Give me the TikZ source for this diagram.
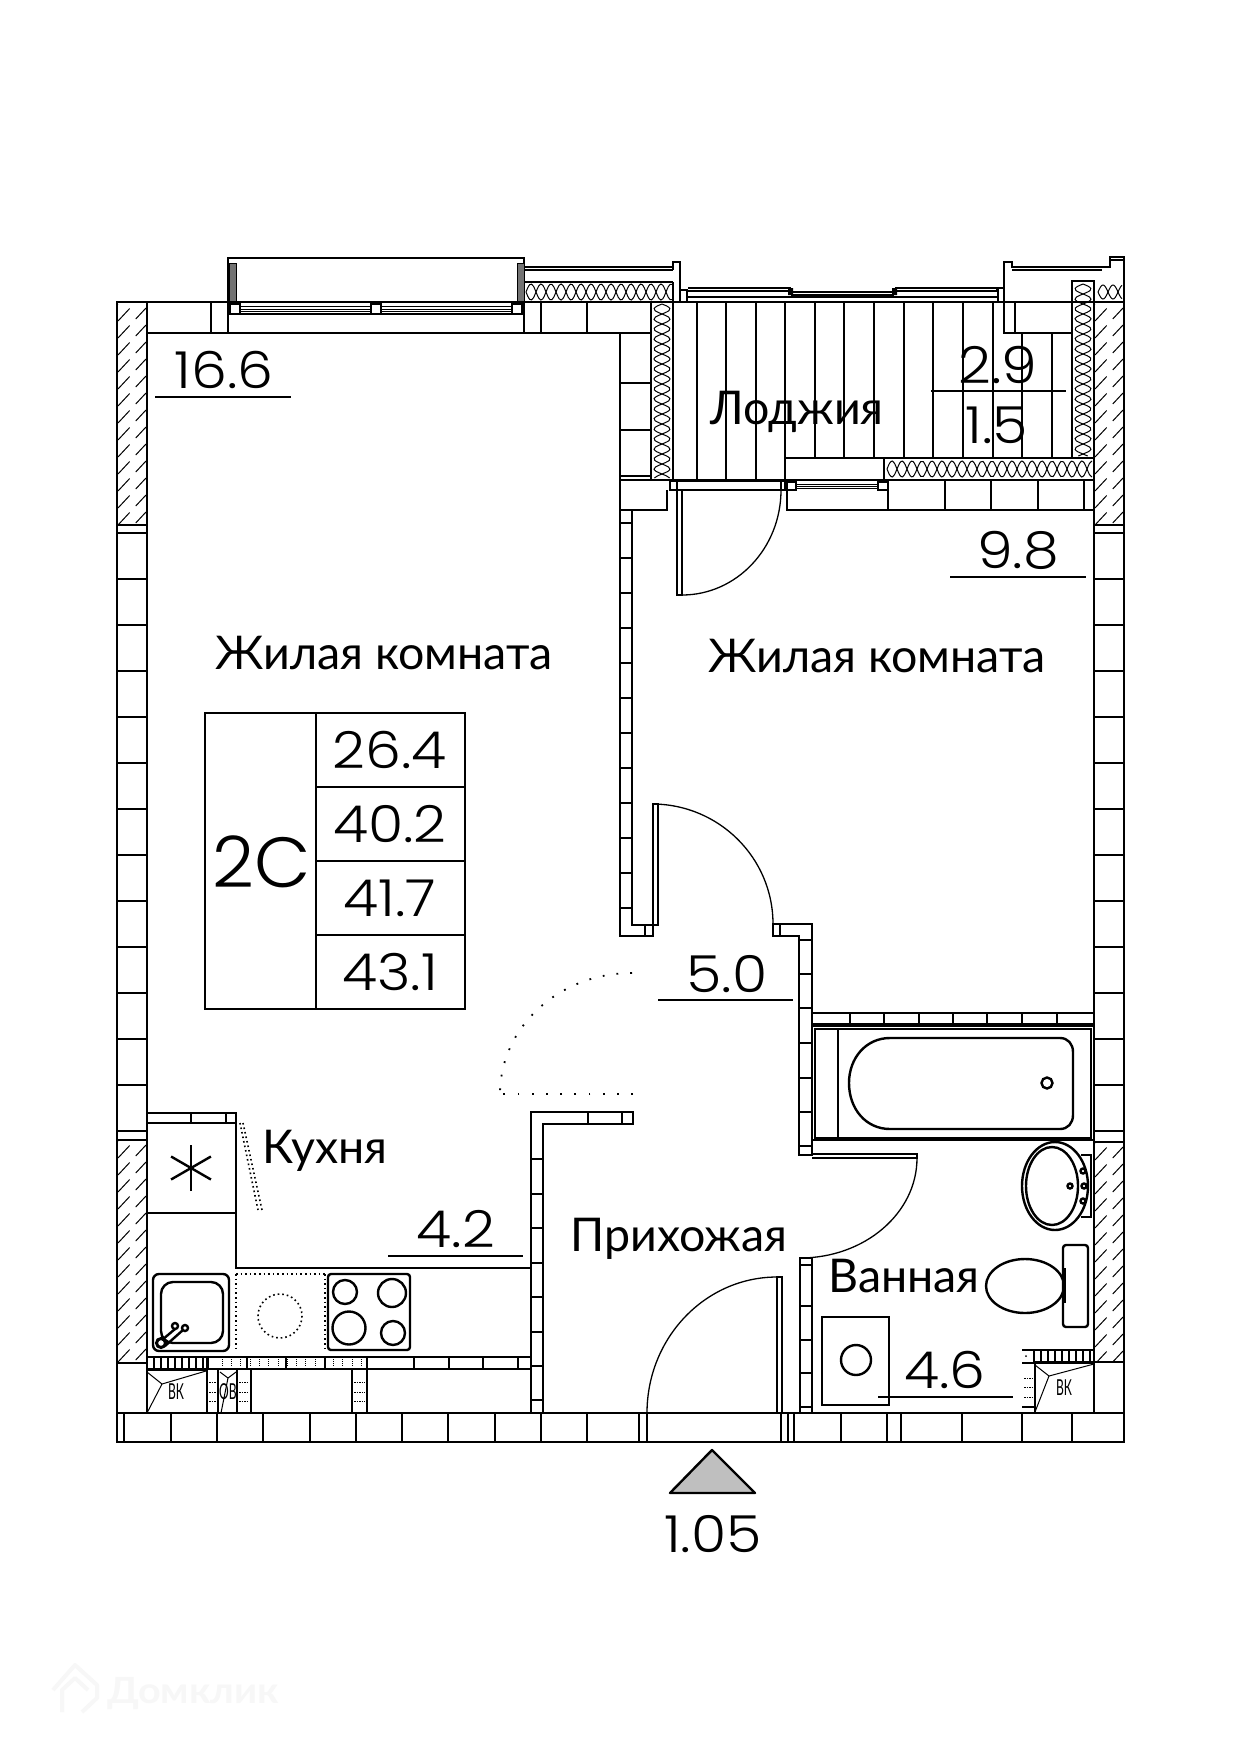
\documentclass[tikz,border=0pt]{standalone}
\usepackage{fontspec}
\setmainfont{Lato}
\newfontfamily\numfont{Poppins Light}

\tikzset{
  wall/.style={line width=2.4pt},
  thin line/.style={line width=1.3pt},
  dots/.style={line width=1.6pt,dash pattern=on 1.6pt off 3pt},
  num/.style={anchor=base,inner sep=0pt,xscale=1.12,font=\numfont\fontsize{51}{51}\selectfont},
  room/.style={anchor=base,inner sep=0pt,font=\fontsize{46.5}{46.5}\selectfont},
  vent/.style={anchor=center,inner sep=0pt,xscale=.55,font=\fontsize{22}{22}\selectfont},
}

% hatched concrete: x0,y0,x1,y1
\newcommand{\wallhatch}[4]{
  \begin{scope}
    \clip (#1,#2) rectangle (#3,#4);
    \foreach \t in {0,17,...,272}
      \draw[line width=1pt,dash pattern=on 17pt off 9pt] (#1,#2+\t) -- (#3,#2+\t-30);
  \end{scope}
}
% insulation, horizontal: x0,x1,ymid,amplitude
\newcommand{\insh}[4]{
  \draw[line width=1pt,domain=#1:#2,samples=80,smooth,variable=\t] plot ({\t},{#3+#4*sin((\t-#1)*18)});
  \draw[line width=1pt,domain=#1:#2,samples=80,smooth,variable=\t] plot ({\t},{#3-#4*sin((\t-#1)*18)});
}
% insulation, vertical: y0,y1,xmid,amplitude
\newcommand{\insv}[4]{
  \draw[line width=1pt,domain=#1:#2,samples=80,smooth,variable=\t] plot ({#3+#4*sin((\t-#1)*18)},{\t});
  \draw[line width=1pt,domain=#1:#2,samples=80,smooth,variable=\t] plot ({#3-#4*sin((\t-#1)*18)},{\t});
}

\begin{document}
\begin{tikzpicture}[x=1pt,y=-1pt]
\useasboundingbox (0,0) rectangle (1241,1749);
\fill[white] (0,0) rectangle (1241,1749);

% outer walls
\draw[wall] (1124,302) -- (1124,1442) -- (117,1442) -- (117,302) -- (228,302);
\draw[wall] (147,302) -- (147,1413);
\draw[wall] (1094,302) -- (1094,1413);
\draw[wall] (117,1413) -- (1124,1413);
\draw[wall] (117,525) -- (147,525) (117,1140) -- (147,1140) (117,1363) -- (147,1363);
\draw[wall] (1094,525) -- (1124,525) (1094,1142) -- (1124,1142) (1094,1362) -- (1124,1362);
\wallhatch{118}{304}{146}{524}
\wallhatch{118}{1141}{146}{1362}
\wallhatch{1095}{304}{1123}{524}
\wallhatch{1095}{1143}{1123}{1361}
\foreach \y in {533,579,...,1140} {
  \draw[thin line] (117,\y) -- (147,\y);
  \draw[thin line] (1094,\y) -- (1124,\y);
}
\foreach \x in {124,171,217,263,310,356,402,448,495,541,587,781,788,794,841,887,962,1022,1072}
  \draw[thin line] (\x,1413) -- (\x,1442);
\draw[wall] (639,1413) -- (639,1442) (647,1413) -- (647,1442) (901,1413) -- (901,1442);

% big window
\draw[wall] (147,333) -- (228,333) -- (228,258) -- (524,258) -- (524,333) -- (651,333);
\draw[wall] (228,302) -- (524,302) -- (680,302);
\draw[thin line] (228,333) -- (524,333);
\draw[wall] (228,314) -- (524,314);
\foreach \y in {306,309,311}
  \draw[line width=1pt] (240,\y) -- (512,\y);
\foreach \x in {235,376,517}
  \draw[wall,fill=white] (\x-5,304) rectangle (\x+5,314);
\foreach \x in {229,517} {
  \fill[black!55] (\x,263) rectangle (\x+7,301);
  \draw[line width=1pt] (\x,263) rectangle (\x+7,301);
}
\foreach \x in {211,541,587}
  \draw[thin line] (\x,302) -- (\x,333);

% parapet and insulation of the loggia
\draw[thin line] (524,267) -- (673,267) (524,270) -- (673,270);
\draw[wall] (524,282) -- (673,282);
\insh{526}{672}{292}{8}
\draw[wall] (673,282) -- (673,480);
\draw[wall] (673,270) -- (673,262) -- (680,262) -- (680,302);
\draw[wall] (651,302) -- (651,480);
\insv{304}{478}{662}{8}
\draw[wall] (620,333) -- (620,936) -- (653,936) -- (653,804) -- (658,804) -- (658,925) -- (632,925) -- (632,510);
\draw[wall] (645,925) -- (645,936);
\draw[thin line] (620,383) -- (651,383) (620,430) -- (651,430) (620,476) -- (651,476);
\draw[wall] (620,480) -- (673,480) (620,510) -- (667,510) -- (667,490);
\foreach \y in {523,558,...,925}
  \draw[thin line] (620,\y) -- (632,\y);

% loggia
\foreach \x in {697,726,756,785}
  \draw[thin line] (\x,302) -- (\x,480);
\foreach \x in {815,844,874,904,933,963,993}
  \draw[thin line] (\x,302) -- (\x,458);
\foreach \x in {1022,1052}
  \draw[thin line] (\x,333) -- (\x,458);
\draw[wall] (680,302) -- (1124,302);
\draw[wall] (687,297) -- (998,297);
\draw[thin line] (688,288) -- (790,288) -- (790,291) -- (688,291);
\draw[thin line] (895,288) -- (997,288) -- (997,291) -- (895,291);
\draw[wall] (791,292) -- (894,292);
\draw[thin line] (791,295) -- (894,295);
\fill (788,288) rectangle (793,295) (892,288) rectangle (897,295);
\draw[wall] (680,290) rectangle (687,302) (998,288) rectangle (1004,302);
\draw[wall] (1004,302) -- (1004,333) -- (1072,333);
\draw[thin line] (1015,302) -- (1015,333);
\draw[wall] (1004,288) -- (1004,262) -- (1012,262) -- (1012,267) -- (1110,267) -- (1110,257) -- (1124,257) -- (1124,302);
\draw[thin line] (1012,270) -- (1102,270);
\draw[thin line] (1110,260) -- (1124,260);
\draw[wall] (1072,281) rectangle (1094,458);
\insv{284}{456}{1083}{8}
\insh{1098}{1122}{292}{7}
\draw[thin line] (785,458) rectangle (884,480);
\draw[wall] (785,458) -- (1094,458);
\draw[wall] (884,480) -- (1094,480);
\insh{887}{1092}{469}{8}

% wall under the loggia
\draw[wall] (673,480) -- (884,480);
\draw[wall] (670,481) rectangle (785,490);
\draw[wall] (677,490) rectangle (682,595);
\draw[wall] (677,481) -- (677,490) (781,481) -- (781,490);
\draw[thin line] (682,595) arc[start angle=90,end angle=0,x radius=99,y radius=105];
\draw[wall,fill=white] (787,482) rectangle (796,490) (878,482) rectangle (888,490);
\foreach \y in {484,486,488}
  \draw[line width=1pt] (796,\y) -- (878,\y);
\draw[thin line] (787,490) -- (787,510) -- (888,510);
\draw[wall] (888,481) -- (888,510) -- (1094,510);
\foreach \x in {945,991,1038,1084}
  \draw[thin line] (\x,481) -- (\x,510);

% door of the second room
\draw[thin line] (652,804) arc[start angle=-90,end angle=0,x radius=121,y radius=120];
\draw[wall] (773,924) -- (812,924) -- (812,1155) -- (799,1155) -- (799,936) -- (773,936) -- cycle;
\draw[wall] (780,924) -- (780,936);
\foreach \y in {940,974,1008,1043,1078,1112,1146}
  \draw[thin line] (799,\y) -- (812,\y);

% table
\draw[wall] (205,713) rectangle (465,1009);
\draw[wall] (316,713) -- (316,1009);
\foreach \y in {787,861,935}
  \draw[wall] (316,\y) -- (465,\y);

% dotted swing
\draw[line width=1.8pt,dash pattern=on 1.8pt off 12pt] (632,973) arc[start angle=-90,end angle=-180,x radius=132,y radius=121];
\draw[line width=1.8pt,dash pattern=on 1.8pt off 12.4pt] (633,1094) -- (499,1094);

% hall partition
\draw[wall] (531,1268) -- (531,1112) -- (633,1112) -- (633,1124) -- (543,1124) -- (543,1413);
\draw[wall] (531,1268) -- (531,1413);
\foreach \x in {588,622}
  \draw[thin line] (\x,1112) -- (\x,1124);
\foreach \y in {1159,1194,1228,1263,1297,1332,1366,1400}
  \draw[thin line] (531,\y) -- (543,\y);

% kitchen
\draw[wall] (147,1113) -- (236,1113) -- (236,1268) -- (531,1268);
\draw[wall] (147,1123) -- (236,1123) (147,1213) -- (236,1213);
\foreach \x in {191,226}
  \draw[thin line] (\x,1113) -- (\x,1123);
\foreach \a in {90,30,-30}
  \draw[wall] ({191+23*cos(\a)},{1168+23*sin(\a)}) -- ({191-23*cos(\a)},{1168-23*sin(\a)});
\draw[dots] (240,1123) -- (258,1210);
\draw[dots] (243,1123) -- (262,1210);
\draw[wall,rounded corners=6pt] (153,1274) rectangle (229,1351);
\draw[wall,rounded corners=12pt] (161,1282) rectangle (223,1343);
\draw[line width=3pt] (161,1343) circle[radius=4.5];
\draw[wall,fill=white] (175,1326) circle[radius=3];
\draw[wall,fill=white] (185,1328) circle[radius=3];
\draw[wall] (162,1340) -- (175,1329) (165,1346) -- (183,1330);
\draw[dots] (236,1274) -- (236,1350) (325,1274) -- (325,1350) (236,1274) -- (325,1274);
\draw[dots] (280,1316) circle[radius=22];
\draw[wall,rounded corners=3pt] (328,1274) rectangle (410,1350);
\foreach \x/\y/\r in {345/1292/12,392/1293/14,349/1328/16.5,393/1333/12}
  \draw[wall] (\x,\y) circle[radius=\r];
\draw[wall] (147,1357) -- (531,1357);
\draw[wall] (147,1369) -- (531,1369);
\foreach \x in {414,449,483,518}
  \draw[thin line] (\x,1357) -- (\x,1369);
\draw[wall] (367,1357) -- (367,1369);
\foreach \x in {247,286,325}
  \draw[thin line] (\x,1357) -- (\x,1369);
\foreach \x in {154,161,...,203}
  \draw[wall] (\x,1358) -- (\x,1368);
\draw[line width=3pt] (207,1357) -- (207,1369);
\draw[line width=3pt] (147,1369) -- (207,1369);
\foreach \x in {222,231,240,250,259,268,278,287,296,305,315,324,333,342,352,361}
  \draw[line width=1pt,dash pattern=on 1pt off 1pt] (\x,1359) -- (\x,1367);

% shafts by the kitchen
\draw[wall] (207,1369) -- (207,1413) (218,1369) -- (218,1413) (237,1369) -- (237,1413) (251,1369) -- (251,1413);
\draw[wall] (352,1369) -- (352,1413) (367,1369) -- (367,1413);
\foreach \x/\w in {209/7,239/10,354/11}
  \foreach \y in {1382,1392,1401}
    \draw[line width=1pt,dash pattern=on 1.5pt off 1pt] (\x,\y) -- (\x+\w,\y);
\draw[line width=1pt] (147,1372) -- (162,1384) -- (206,1371) (162,1384) -- (147,1413);
\draw[line width=1pt] (220,1372) -- (228,1378) -- (236,1372) (228,1378) -- (221,1413);
\node[vent] (ventkitchen) at (176,1392) {ВК};
\node[vent] (ventheating) at (228,1392) {ОВ};

% bathroom wall and bath
\draw[wall] (812,1013) -- (1094,1013) (812,1024) -- (1094,1024);
\foreach \x in {850,884,919,953,987,1022,1057}
  \draw[thin line] (\x,1013) -- (\x,1024);
\draw[wall] (812,1026) -- (1094,1026);
\draw[wall] (815,1029) rectangle (1091,1138);
\draw[wall] (812,1026) -- (812,1140) -- (1094,1140);
\draw[wall] (838,1029) -- (838,1138);
\draw[wall] (890,1038) -- (1060,1038) .. controls (1068,1038) and (1073,1044) .. (1073,1052) -- (1073,1115)
  .. controls (1073,1123) and (1068,1129) .. (1060,1129) -- (890,1129)
  .. controls (866,1129) and (849,1109) .. (849,1083) .. controls (849,1058) and (866,1038) .. (890,1038) -- cycle;
\draw[wall] (1047,1083) circle[radius=5.5];

% bathroom door
\draw[wall] (812,1154) -- (917,1154) -- (917,1158) -- (812,1158);
\draw[thin line] (917,1158) arc[start angle=0,end angle=90,x radius=117,y radius=100];
\draw[wall] (800,1413) -- (800,1258) -- (812,1258) -- (812,1413);
\foreach \y in {1265,1306,1340,1373,1407}
  \draw[thin line] (800,\y) -- (812,\y);

% entrance door
\draw[wall] (777,1277) rectangle (782,1413);
\draw[thin line] (777,1277) arc[start angle=-90,end angle=-180,x radius=130,y radius=136];

% basin
\draw[wall] (1055,1186) ellipse[x radius=33,y radius=44];
\draw[wall] (1052,1186) ellipse[x radius=26,y radius=39];
\draw[thin line] (1081,1155) -- (1091,1155) -- (1091,1217) -- (1081,1217);
\foreach \x/\y in {1083/1171,1084/1186,1083/1201,1070/1186}
  \draw[wall] (\x,\y) circle[radius=2.5];

% toilet
\draw[wall,rounded corners=3pt] (1063,1245) rectangle (1088,1327);
\draw[wall] (1025,1286) ellipse[x radius=39,y radius=27];
\draw[line width=3pt] (1064,1268) -- (1064,1303);

% washer
\draw[wall] (822,1317) rectangle (889,1405);
\draw[wall] (856,1360) circle[radius=15];

% shaft in the bathroom
\draw[wall] (1035,1362) -- (1035,1413);
\draw[wall] (1034,1350) rectangle (1094,1362);
\foreach \x in {1041,1048,...,1090}
  \draw[wall] (\x,1351) -- (\x,1361);
\draw[line width=3pt] (1034,1362) -- (1094,1362);
\draw[thin line] (1022,1350) -- (1034,1350) (1022,1363) -- (1034,1363) (1022,1407) -- (1034,1407);
\fill (1026,1356) circle[radius=1];
\foreach \y in {1378,1387,1397}
  \draw[line width=1pt,dash pattern=on 1.5pt off 1pt] (1024,\y) -- (1033,\y);
\draw[line width=1pt] (1035,1365) -- (1049,1376) -- (1094,1364) (1049,1376) -- (1035,1412);
\node[vent] (ventbath) at (1064,1388) {ВК};

% entrance mark
\draw[wall,fill=black!25,line join=round] (712,1450) -- (670,1493) -- (755,1493) -- cycle;

% areas
\node[num] (area166) at (224,388) {16.6};
\draw[wall] (155,397) -- (291,397);
\node[num] (area29) at (998,383) {2.9};
\draw[wall] (931,391) -- (1066,391);
\node[num] (area15) at (997,443) {1.5};
\node[num] (area98) at (1018,568) {9.8};
\draw[wall] (950,577) -- (1086,577);
\node[num] (area50) at (727,992) {5.0};
\draw[wall] (658,1000) -- (793,1000);
\node[num] (area42) at (456,1247) {4.2};
\draw[wall] (388,1256) -- (523,1256);
\node[num] (area46) at (945,1388) {4.6};
\draw[wall] (878,1397) -- (1013,1397);
\node[num] (living) at (390,768) {26.4};
\node[num] (total) at (390,842) {40.2};
\node[num] (reduced) at (390,916) {41.7};
\node[num] (full) at (390,990) {43.1};
\node[num,xscale=.92,font=\numfont\fontsize{71}{71}\selectfont] (type) at (262,887) {2C};
\node[num] (section) at (713,1552) {1.05};

% rooms
\node[room] (room1) at (384,669) {Жилая комната};
\node[room] (room2) at (877,672) {Жилая комната};
\node[room] (loggia) at (797,424) {Лоджия};
\node[room] (kitchen) at (325,1163) {Кухня};
\node[room] (hall) at (679,1251) {Прихожая};
\node[room] (bath) at (904,1292) {Ванная};

% watermark
\draw[black!3,line width=4pt,line join=round] (53,1690) -- (75,1665) -- (97,1685) -- (97,1698) -- (82,1712) (62,1712) -- (62,1690) -- (75,1678) -- (88,1690);
\node[anchor=base west,inner sep=0pt,xscale=1.1,text=black!3,font=\bfseries\fontsize{36}{36}\selectfont] (mark) at (107,1703) {Домклик};
\end{tikzpicture}
\end{document}
